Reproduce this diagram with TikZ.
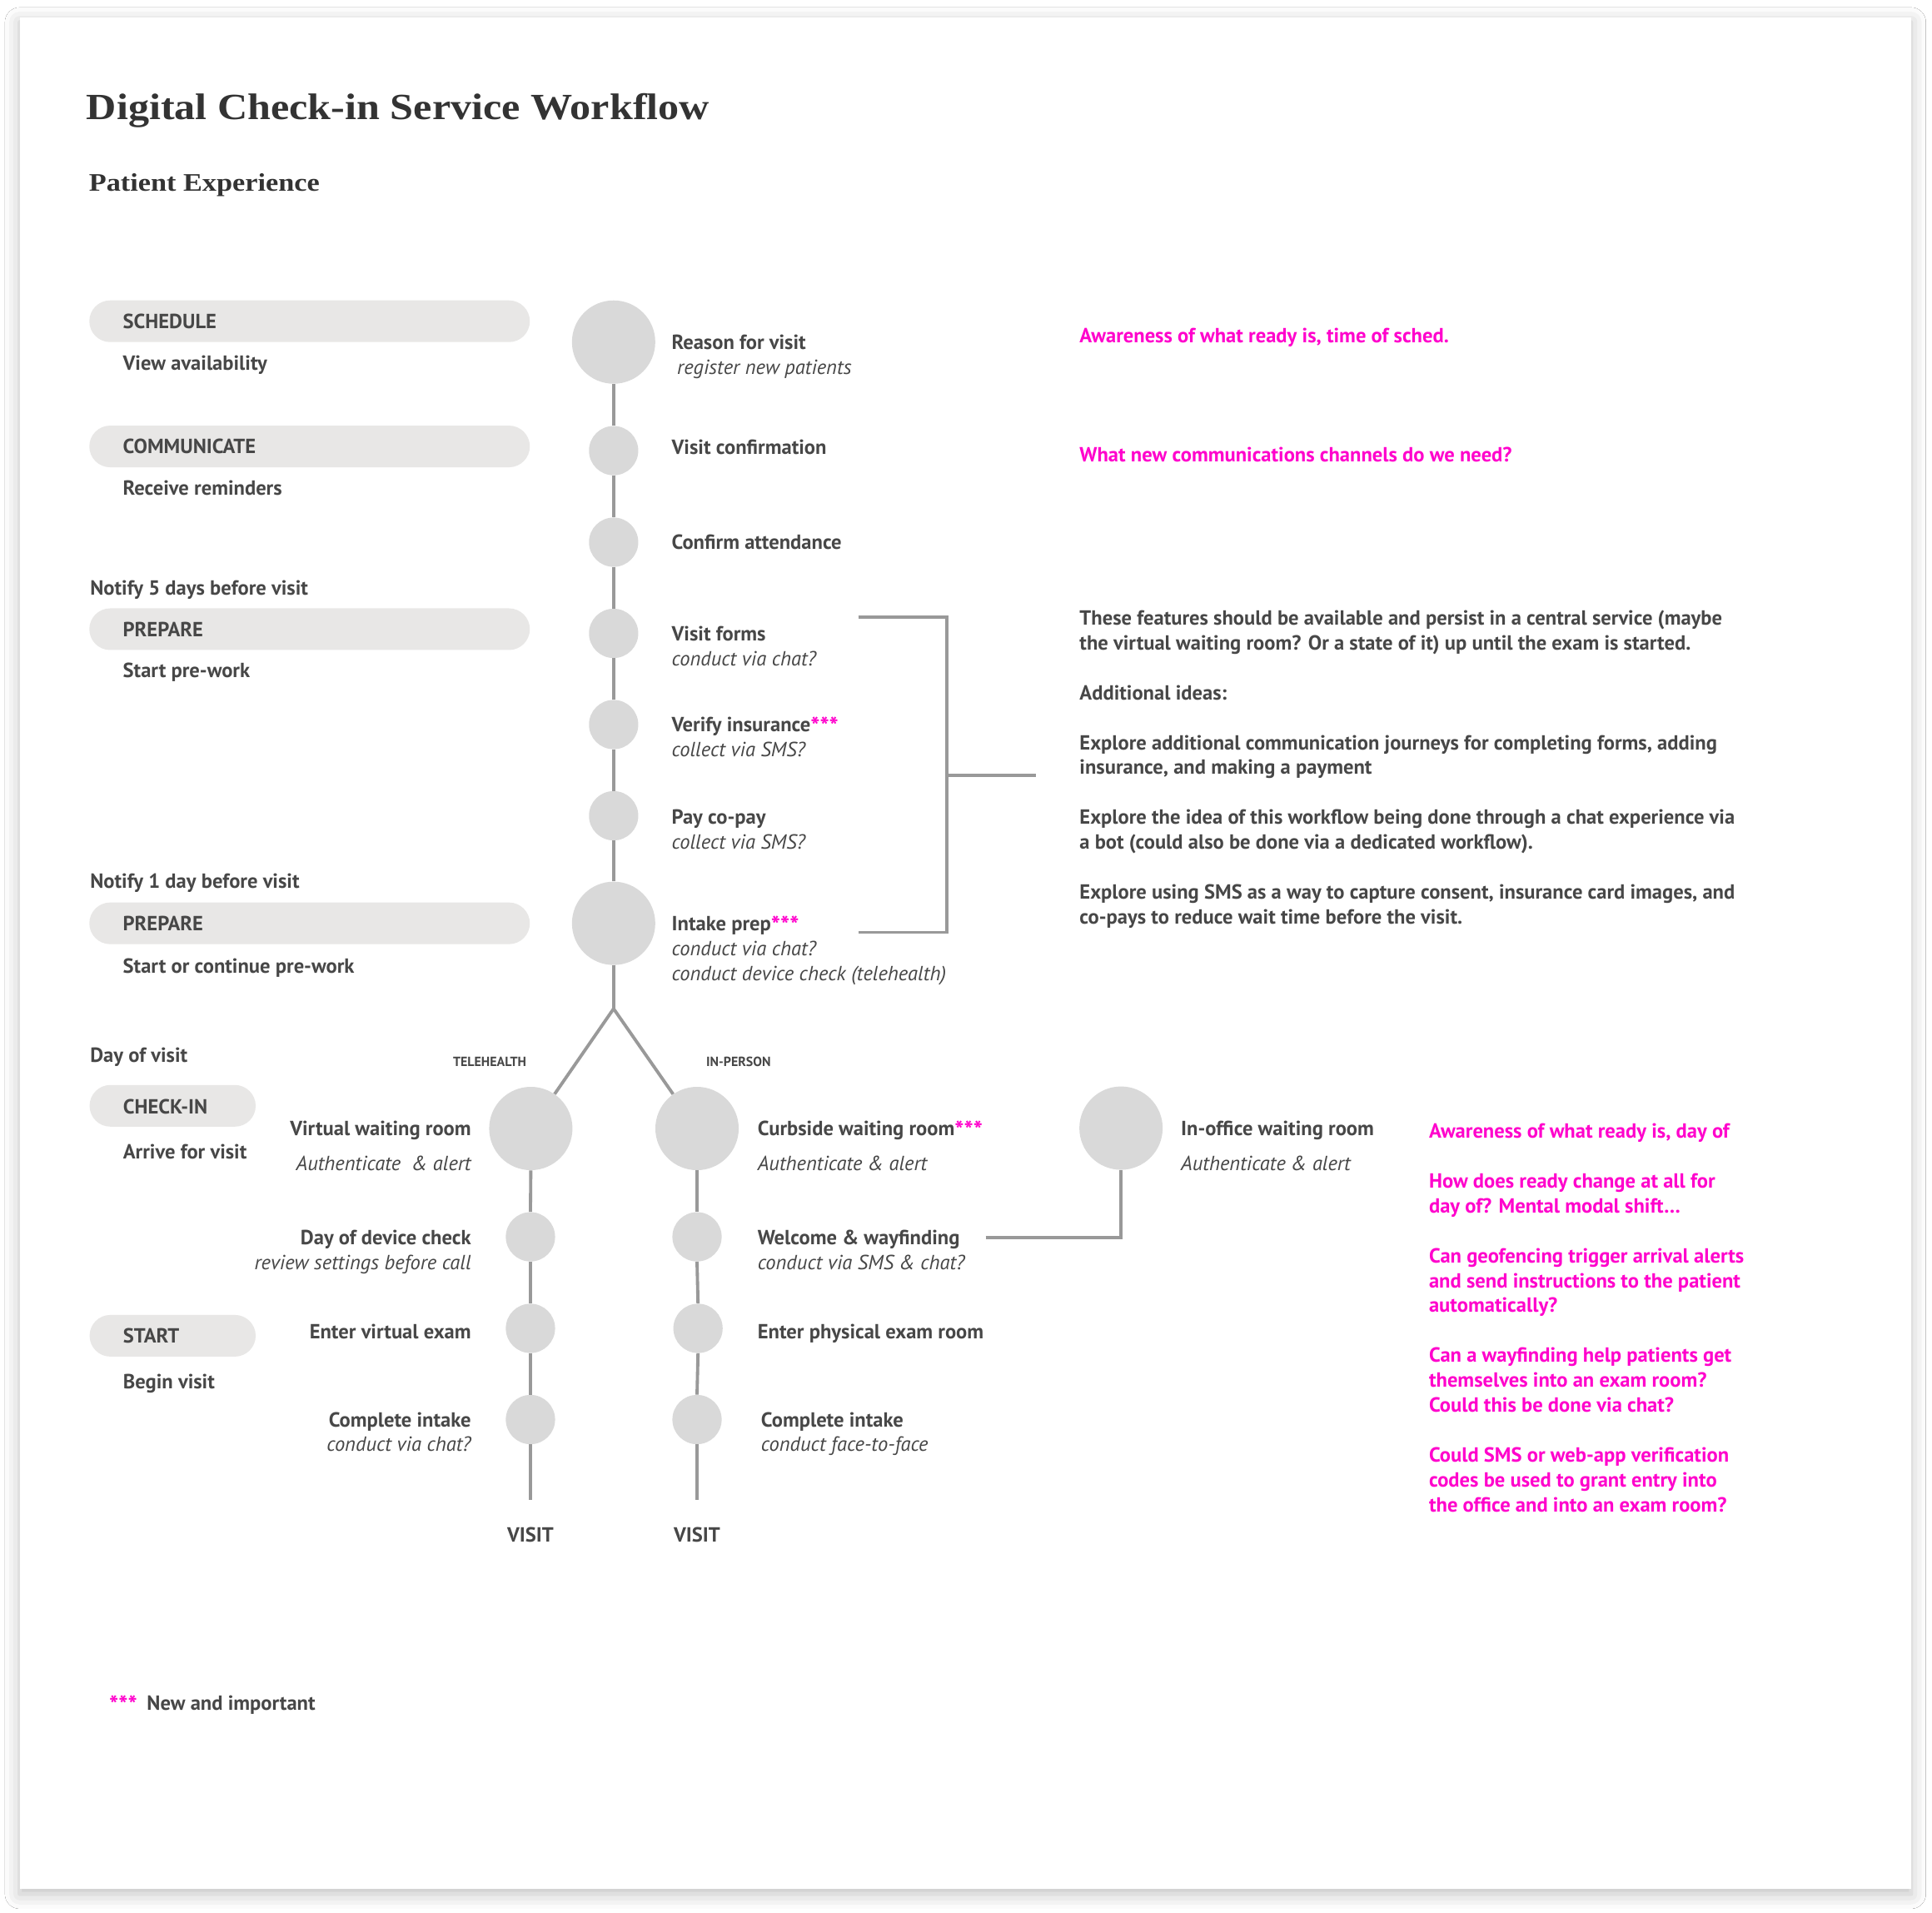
\documentclass[tikz,border=0pt]{standalone}
\usepackage{fontspec}
\setmainfont{PT Sans}
\newfontfamily\serifb{Liberation Serif}[FakeStretch=1.13]
\usetikzlibrary{shadows.blur}
\definecolor{txt}{HTML}{474747}
\definecolor{mag}{HTML}{FF00CC}
\definecolor{pillc}{HTML}{E8E7E6}
\definecolor{circc}{HTML}{D9D9D9}
\definecolor{linec}{HTML}{999999}
\definecolor{ttl}{HTML}{333333}
\newcommand\fsm{\fontsize{16.6}{20.2}\selectfont}
\newcommand\subt[1]{{\mdseries\itshape #1}}
\newcommand\magstars{\raisebox{-2.5pt}{\textcolor{mag}{\fontsize{20}{20.2}\selectfont ***}}}
\newcommand\tl[1]{\begin{tabular}[t]{@{}l@{}}#1\end{tabular}}
\newcommand\tr[1]{\begin{tabular}[t]{@{}r@{}}#1\end{tabular}}
\tikzset{
  lbl/.style={anchor=base west, inner sep=0pt, text=txt, font=\fsm\bfseries},
  lblr/.style={lbl, anchor=base east},
  lblc/.style={lbl, anchor=base},
  note/.style={lbl, text=mag},
  tiny/.style={anchor=base, inner sep=0pt, text=txt, font=\fontsize{10.8}{12}\selectfont\bfseries},
  bigc/.style={circle, fill=circc, minimum size=67.6pt, inner sep=0pt},
  smallc/.style={circle, fill=circc, minimum size=40pt, inner sep=0pt},
  pill/.style={fill=pillc, rounded corners=16.9pt, minimum height=33.8pt, inner sep=0pt},
  conn/.style={draw=linec, line width=2.6pt},
}
\begin{document}
\begin{tikzpicture}[x=1pt,y=-1pt]
\useasboundingbox (0,0) rectangle (1568,1552);
\fill[white] (0,0) rectangle (1568,1552);
\fill[white, blur shadow={shadow xshift=0pt, shadow yshift=-4pt, shadow blur radius=12pt, shadow opacity=25}] (16,14) rectangle (1551,1533);

% titles
\node[anchor=base west, inner sep=0pt, text=ttl, font=\serifb\bfseries\fontsize{30}{36}\selectfont] (title) at (70,97) {Digital Check-in Service Workflow};
\node[anchor=base west, inner sep=0pt, text=ttl, font=\serifb\bfseries\fontsize{20.5}{24}\selectfont] (subtitle) at (72,155) {Patient Experience};

% left column
\node[pill, minimum width=357.5pt] (pS) at (251.25,260.7) {};
\node[lbl] (tS) at (99.6,266.4) {SCHEDULE};
\node[lbl] (tS2) at (99.6,300.2) {View availability};
\node[pill, minimum width=357.5pt] (pC) at (251.25,362.3) {};
\node[lbl] (tC) at (99.6,368) {COMMUNICATE};
\node[lbl] (tC2) at (99.6,402) {Receive reminders};
\node[lbl] (n5) at (73,482.7) {Notify 5 days before visit};
\node[pill, minimum width=357.5pt] (pP1) at (251.25,510.6) {};
\node[lbl] (tP1) at (99.6,516.8) {PREPARE};
\node[lbl] (tP12) at (99.6,550) {Start pre-work};
\node[lbl] (n1) at (73,720.7) {Notify 1 day before visit};
\node[pill, minimum width=357.5pt] (pP2) at (251.25,749.3) {};
\node[lbl] (tP2) at (99.6,755.5) {PREPARE};
\node[lbl] (tP22) at (99.6,790) {Start or continue pre-work};
\node[lbl] (dov) at (73,862) {Day of visit};
\node[pill, minimum width=134.8pt] (pCI) at (140.1,897.4) {};
\node[lbl] (tCI) at (99.7,904) {CHECK-IN};
\node[lbl] (tCI2) at (99.7,940.5) {Arrive for visit};
\node[pill, minimum width=134.8pt] (pST) at (140.1,1084) {};
\node[lbl] (tST) at (99.7,1090) {START};
\node[lbl] (tST2) at (99.7,1127.3) {Begin visit};

% spine circles
\node[bigc] (c1) at (498,277.6) {};
\node[smallc] (c2) at (498,365.7) {};
\node[smallc] (c3) at (498,440) {};
\node[smallc] (c4) at (498,514) {};
\node[smallc] (c5) at (498,588) {};
\node[smallc] (c6) at (498,662) {};
\node[bigc] (c7) at (498,749.3) {};
\coordinate (br) at (498,818.6);
\node[bigc] (L1) at (430.8,915.8) {};
\node[smallc] (L2) at (430.5,1003.7) {};
\node[smallc] (L3) at (430.5,1078) {};
\node[smallc] (L4) at (430.5,1152) {};
\coordinate (Lend) at (430.5,1217.5);
\node[bigc] (R1) at (565.7,915.8) {};
\node[smallc] (R2) at (565.7,1003.7) {};
\node[smallc] (R3) at (566.5,1078) {};
\node[smallc] (R4) at (565.7,1152) {};
\coordinate (Rend) at (565.7,1217.5);
\node[bigc] (O1) at (909.8,915.5) {};

% connectors
\draw[conn] (c1.south) -- (c2.north);
\draw[conn] (c2.south) -- (c3.north);
\draw[conn] (c3.south) -- (c4.north);
\draw[conn] (c4.south) -- (c5.north);
\draw[conn] (c5.south) -- (c6.north);
\draw[conn] (c6.south) -- (c7.north);
\draw[conn] (c7.south) -- (br);
\draw[conn] (br) -- (L1);
\draw[conn] (br) -- (R1);
\draw[conn] (L1.south) -- (L2.north);
\draw[conn] (L2.south) -- (L3.north);
\draw[conn] (L3.south) -- (L4.north);
\draw[conn] (L4.south) -- (Lend);
\draw[conn] (R1.south) -- (R2.north);
\draw[conn] (R2.south) -- (R3.north);
\draw[conn] (R3.south) -- (R4.north);
\draw[conn] (R4.south) -- (Rend);
\coordinate (wf) at (800,1004.4);
\draw[conn] (wf) -| (O1.south);
\coordinate (bt) at (696.5,500.6);
\coordinate (bb) at (696.5,756.6);
\coordinate (bm) at (768.5,629.3);
\coordinate (be) at (840.5,629.3);
\draw[conn] (bt) -| (bm) |- (bb);
\draw[conn] (bm) -- (be);

% spine labels
\node[lbl] (s1) at (545,283.6) {\tl{Reason for visit\\ \subt{\ register new patients}}};
\node[lbl] (s2) at (545,368.7) {Visit confirmation};
\node[lbl] (s3) at (545,446) {Confirm attendance};
\node[lbl] (s4) at (545,520) {\tl{Visit forms\\ \subt{conduct via chat?}}};
\node[lbl] (s5) at (545,594) {\tl{Verify insurance\magstars\\ \subt{collect via SMS?}}};
\node[lbl] (s6) at (545,668.5) {\tl{Pay co-pay\\ \subt{collect via SMS?}}};
\node[lbl] (s7) at (545,755.5) {\tl{Intake prep\magstars\\ \subt{conduct via chat?}\\ \subt{conduct device check (telehealth)}}};

% notes top
\node[note] (m1) at (876,278.4) {Awareness of what ready is, time of sched.};
\node[note] (m2) at (876,374.6) {What new communications channels do we need?};
\node[lbl] (blk) at (876,507.3) {\tl{These features should be available and persist in a central service (maybe\\ the virtual waiting room? Or a state of it) up until the exam is started.\\ \\ Additional ideas:\\ \\ Explore additional communication journeys for completing forms, adding\\ insurance, and making a payment\\ \\ Explore the idea of this workflow being done through a chat experience via\\ a bot (could also be done via a dedicated workflow).\\ \\ Explore using SMS as a way to capture consent, insurance card images, and\\ co-pays to reduce wait time before the visit.}};

% branch headings
\node[tiny] (th) at (397.4,865.5) {TELEHEALTH};
\node[tiny] (ip) at (599.4,865.5) {IN-PERSON};

% left branch labels
\node[lblr] (l1) at (382.5,921.7) {\tr{Virtual waiting room\\[7.7pt] \subt{Authenticate\ \ \& alert}}};
\node[lblr] (l2) at (382.5,1010) {\tr{Day of device check\\ \subt{review settings before call}}};
\node[lblr] (l3) at (382.5,1086.6) {Enter virtual exam};
\node[lblr] (l4) at (382.5,1157.8) {\tr{Complete intake\\ \subt{conduct via chat?}}};

% right branch labels
\node[lbl] (r1) at (614.7,921.7) {\tl{Curbside waiting room\magstars\\[7.7pt] \subt{Authenticate \& alert}}};
\node[lbl] (r2) at (614.7,1010) {\tl{Welcome \& wayfinding\\ \subt{conduct via SMS \& chat?}}};
\node[lbl] (r3) at (614.7,1086.6) {Enter physical exam room};
\node[lbl] (r4) at (617.5,1157.8) {\tl{Complete intake\\ \subt{conduct face-to-face}}};
\node[lbl] (o1) at (958.3,921.8) {\tl{In-office waiting room\\[7.7pt] \subt{Authenticate \& alert}}};

% visit labels
\node[lblc] (v1) at (430.5,1251.5) {VISIT};
\node[lblc] (v2) at (565.7,1251.5) {VISIT};

% right magenta notes
\node[note] (m3) at (1159.6,923.7) {\tl{Awareness of what ready is, day of\\ \\ How does ready change at all for\\ day of? Mental modal shift…\\ \\ Can geofencing trigger arrival alerts\\ and send instructions to the patient\\ automatically?\\ \\ Can a wayfinding help patients get\\ themselves into an exam room?\\ Could this be done via chat?\\ \\ Could SMS or web-app verification\\ codes be used to grant entry into\\ the office and into an exam room?}};

% footer
\node[note] (fs) at (88.5,1388.2) {\magstars};
\node[lbl] (ft) at (119,1388.2) {New and important};
\end{tikzpicture}
\end{document}
